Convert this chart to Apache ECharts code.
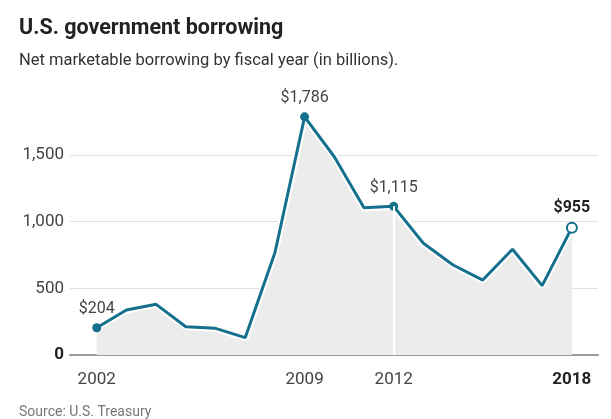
<!DOCTYPE html>
<html>
<head>
<meta charset="utf-8">
<script src="https://cdn.jsdelivr.net/npm/echarts@6/dist/echarts.min.js"></script>
<style>
html, body { margin: 0; padding: 0; background: #fff; }
#chart { width: 611px; height: 419px; }
</style>
</head>
<body>
<div id="chart"></div>
<script>
// fiscal years and net marketable borrowing (billions)
const years = [2002, 2003, 2004, 2005, 2006, 2007, 2008, 2009, 2010, 2011, 2012, 2013, 2014, 2015, 2016, 2017, 2018]
const borrowing = [204, 337, 380, 212, 200, 130, 767, 1786, 1487, 1105, 1115, 838, 675, 562, 793, 520, 955]
const tickYears = [2002, 2009, 2012, 2018]
const labeledYears = [2002, 2009, 2012]
const latestYear = 2018

const font = 'Roboto, "Liberation Sans", sans-serif'
const teal = '#15708d'

const fmt = v => '$' + v.toLocaleString('en-US')
const pairs = years.map((y, i) => [y, borrowing[i]])

// 点的样式：标注年份画实心点，最新一年画空心点
const lineData = years.map((y, i) => {
  const item = { value: [y, borrowing[i]] }
  if (labeledYears.includes(y)) {
    item.symbol = 'circle'
    item.symbolSize = 9
    item.label = { show: true, formatter: fmt(borrowing[i]) }
  } else if (y === latestYear) {
    item.symbol = 'circle'
    item.symbolSize = 10
    item.itemStyle = { color: '#fff', borderColor: teal, borderWidth: 2 }
    item.label = { show: true, formatter: fmt(borrowing[i]), fontWeight: 'bold', color: '#222' }
  } else {
    item.symbol = 'none'
  }
  return item
})

const whiteRules = [2009, 2012].map(y => [
  { coord: [y, 0] },
  { coord: [y, borrowing[years.indexOf(y)]] }
])

const chart = echarts.init(document.getElementById('chart'))

const option = {
  animation: false,
  textStyle: { fontFamily: font },
  title: [
    { text: 'U.S. government borrowing', left: 14, top: 13,
      textStyle: { fontSize: 21.5, fontWeight: 'bold', color: '#222', fontFamily: font } },
    { text: 'Net marketable borrowing by fiscal year (in billions).', left: 14, top: 47,
      textStyle: { fontSize: 16.5, fontWeight: 'normal', color: '#333', fontFamily: font } },
    { text: 'Source: U.S. Treasury', left: 14, top: 400,
      textStyle: { fontSize: 14, fontWeight: 'normal', color: '#777', fontFamily: font } }
  ],
  grid: { left: 70, right: 13, top: 155, bottom: 64 },
  xAxis: {
    type: 'value',
    min: 2001.1,
    max: 2018.88,
    splitLine: { show: false },
    axisTick: { show: false },
    axisLine: { show: true, lineStyle: { color: '#9a9a9a', width: 2 } },
    axisLabel: {
      customValues: tickYears,
      margin: 16,
      fontSize: 17,
      color: '#444',
      fontFamily: font,
      formatter: v => (v === latestYear ? '{b|' + v + '}' : String(v)),
      rich: { b: { fontWeight: 'bold', fontSize: 17, color: '#222', fontFamily: font } }
    }
  },
  yAxis: {
    type: 'value',
    min: 0,
    max: 1500,
    interval: 500,
    axisLine: { show: false },
    axisTick: { show: false },
    splitLine: { lineStyle: { color: '#e2e2e2', width: 1 } },
    axisLabel: {
      margin: 6,
      fontSize: 17,
      color: '#444',
      fontFamily: font,
      formatter: v => (v === 0 ? '{b|0}' : v.toLocaleString('en-US')),
      rich: { b: { fontWeight: 'bold', fontSize: 17, color: '#222', fontFamily: font } }
    }
  },
  series: [
    {
      // 灰色面积 + 白色竖线
      type: 'line',
      data: pairs,
      clip: false,
      symbol: 'none',
      lineStyle: { width: 0 },
      areaStyle: { color: '#ececec', opacity: 1 },
      markLine: {
        silent: true,
        symbol: ['none', 'none'],
        label: { show: false },
        lineStyle: { color: '#fff', width: 2, type: 'solid' },
        data: whiteRules
      }
    },
    {
      // 白色描边
      type: 'line',
      data: pairs,
      clip: false,
      symbol: 'none',
      lineStyle: { color: '#fff', width: 7 }
    },
    {
      type: 'line',
      data: lineData,
      clip: false,
      showSymbol: true,
      itemStyle: { color: teal },
      lineStyle: { color: teal, width: 3 },
      label: {
        position: 'top',
        distance: 6,
        fontSize: 16,
        color: '#444',
        fontFamily: font,
        textBorderColor: '#fff',
        textBorderWidth: 3
      }
    }
  ]
}

chart.setOption(option)
</script>
</body>
</html>
